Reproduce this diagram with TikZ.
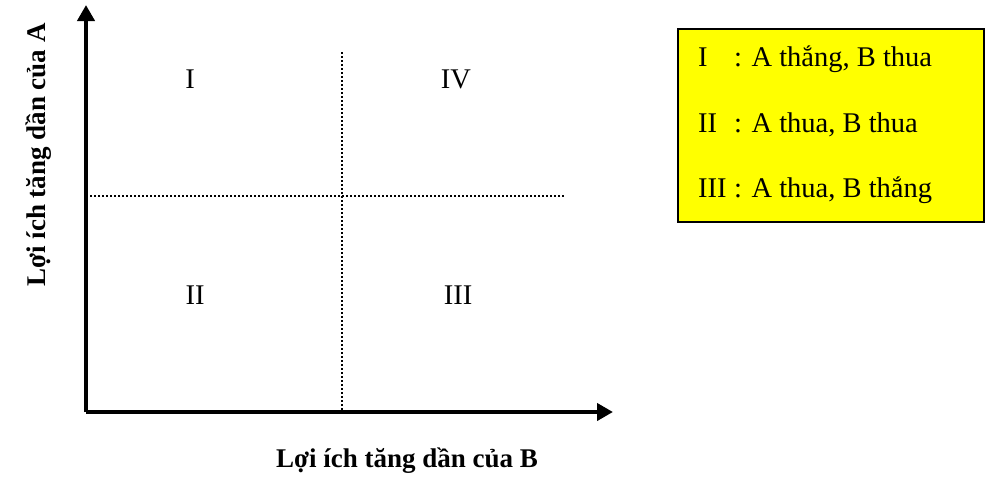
\documentclass[tikz,border=0pt]{standalone}
\usepackage{fontspec}
\setmainfont{Liberation Serif}
\usepackage{xcolor}
\definecolor{legyellow}{RGB}{255,255,0}
\usetikzlibrary{arrows.meta,positioning}

\begin{document}
\begin{tikzpicture}[
  x=1pt, y=-1pt,
  font=\fontsize{28.5}{34}\selectfont,
  >={Triangle[length=16pt,width=17pt]},
  axis/.style={line width=4pt, ->},
  grid/.style={line width=2pt, dash pattern=on 2pt off 2pt},
  quad/.style={anchor=base, inner sep=0pt},
  axlbl/.style={font=\fontsize{27}{32}\selectfont\bfseries, anchor=base, inner sep=0pt},
  legbox/.style={draw, line width=2pt, fill=legyellow, anchor=north west,
                 minimum width=306pt, minimum height=193pt, inner sep=0pt},
  legline/.style={anchor=base west, inner sep=0pt},
]
\useasboundingbox (0,0) rectangle (993,479);
% axes
\coordinate (O) at (86,412);
\coordinate (ytip) at (86,5);
\coordinate (xtip) at (613,412);
\draw[axis] (O) -- (ytip);
\draw[axis] (O) -- (xtip);
% dotted dividers
\coordinate (vtop) at (342,52);
\coordinate (vbot) at (342,412);
\coordinate (hleft) at (86,196);
\coordinate (hright) at (565,196);
\draw[grid] (vtop) -- (vbot);
\draw[grid] (hleft) -- (hright);
% quadrant labels
\node[quad] (q1) at (190,88) {I};
\node[quad] (q4) at (456,88) {IV};
\node[quad] (q2) at (195,304) {II};
\node[quad] (q3) at (458,304) {III};
% axis titles
\node[axlbl] (xt) at (407,467) {Lợi ích tăng dần của B};
\node[axlbl, rotate=90] (yt) at (45,155) {Lợi ích tăng dần của A};
% legend
\node[legbox] (leg) at (677,28) {};
\node[legline] (l1) at (698,66) {\makebox[36pt][l]{I}: A thắng, B thua};
\node[legline] (l2) at (698,132) {\makebox[36pt][l]{II}: A thua, B thua};
\node[legline] (l3) at (698,197) {\makebox[36pt][l]{III}: A thua, B thắng};
\end{tikzpicture}
\end{document}
